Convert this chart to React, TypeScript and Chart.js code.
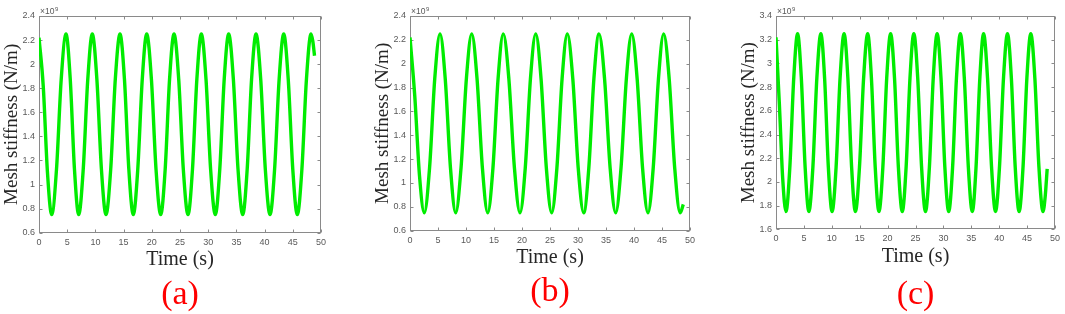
import React, { useEffect, useRef } from 'react';
import { Chart, registerables } from 'chart.js';

Chart.register(...registerables);

// ---------- data (stiffness in units of 1e9 N/m, time in s) ----------
const X_TICKS = [0, 5, 10, 15, 20, 25, 30, 35, 40, 45, 50];
const Y_TICKS_A = [0.6, 0.8, 1, 1.2, 1.4, 1.6, 1.8, 2, 2.2, 2.4];
const Y_TICKS_B = [0.6, 0.8, 1, 1.2, 1.4, 1.6, 1.8, 2, 2.2, 2.4];
const Y_TICKS_C = [1.6, 1.8, 2, 2.2, 2.4, 2.6, 2.8, 3, 3.2, 3.4];
const PANEL_LABELS = ['(a)', '(b)', '(c)'];
const X_TITLE = 'Time (s)';
const Y_TITLE = 'Mesh stiffness (N/m)';
const EXPONENT = '9';

const SERIES_A: [number, number][] = [
  [0, 2.22], [0.75, 1.82], [1.5, 1.1],
  [2.25, 0.75], [3.1, 1.125], [3.94, 1.875],
  [4.79, 2.25], [5.54, 1.875], [6.29, 1.125],
  [7.04, 0.75], [7.84, 1.125], [8.65, 1.875],
  [9.45, 2.25], [10.26, 1.875], [11.07, 1.125],
  [11.88, 0.75], [12.71, 1.125], [13.53, 1.875],
  [14.36, 2.25], [15.15, 1.875], [15.93, 1.125],
  [16.72, 0.75], [17.51, 1.125], [18.31, 1.875],
  [19.1, 2.25], [19.93, 1.875], [20.75, 1.125],
  [21.58, 0.75], [22.37, 1.125], [23.15, 1.875],
  [23.94, 2.25], [24.77, 1.875], [25.59, 1.125],
  [26.42, 0.75], [27.21, 1.125], [27.99, 1.875],
  [28.78, 2.25], [29.61, 1.875], [30.43, 1.125],
  [31.26, 0.75], [32.05, 1.125], [32.84, 1.875],
  [33.63, 2.25], [34.46, 1.875], [35.29, 1.125],
  [36.12, 0.75], [36.91, 1.125], [37.69, 1.875],
  [38.48, 2.25], [39.31, 1.875], [40.13, 1.125],
  [40.96, 0.75], [41.77, 1.125], [42.58, 1.875],
  [43.39, 2.25], [44.19, 1.875], [45.0, 1.125],
  [45.8, 0.75], [46.61, 1.125], [47.42, 1.875],
  [48.23, 2.25], [48.55, 2.19], [48.85, 2.07],
];

const SERIES_B: [number, number][] = [
  [0, 2.22], [0.85, 1.73], [1.7, 1.06],
  [2.55, 0.75], [3.49, 1.125], [4.42, 1.875],
  [5.36, 2.25], [6.29, 1.875], [7.23, 1.125],
  [8.16, 0.75], [9.11, 1.125], [10.07, 1.875],
  [11.02, 2.25], [11.97, 1.875], [12.93, 1.125],
  [13.88, 0.75], [14.81, 1.125], [15.73, 1.875],
  [16.66, 2.25], [17.65, 1.875], [18.65, 1.125],
  [19.64, 0.75], [20.58, 1.125], [21.51, 1.875],
  [22.45, 2.25], [23.4, 1.875], [24.35, 1.125],
  [25.3, 0.75], [26.23, 1.125], [27.16, 1.875],
  [28.09, 2.25], [29.07, 1.875], [30.04, 1.125],
  [31.02, 0.75], [31.93, 1.125], [32.84, 1.875],
  [33.75, 2.25], [34.74, 1.875], [35.74, 1.125],
  [36.73, 0.75], [37.68, 1.125], [38.64, 1.875],
  [39.59, 2.25], [40.56, 1.875], [41.53, 1.125],
  [42.5, 0.75], [43.43, 1.125], [44.37, 1.875],
  [45.3, 2.25], [46.28, 1.875], [47.27, 1.125],
  [48.25, 0.75], [48.8, 0.82],
];

const SERIES_C: [number, number][] = [
  [0, 3.22], [0.6, 2.66], [1.2, 2.03],
  [1.79, 1.75], [2.48, 2.125], [3.18, 2.875],
  [3.87, 3.25], [4.54, 2.875], [5.22, 2.125],
  [5.89, 1.75], [6.61, 2.125], [7.32, 2.875],
  [8.04, 3.25], [8.71, 2.875], [9.38, 2.125],
  [10.05, 1.75], [10.77, 2.125], [11.48, 2.875],
  [12.2, 3.25], [12.88, 2.875], [13.55, 2.125],
  [14.23, 1.75], [14.96, 2.125], [15.7, 2.875],
  [16.43, 3.25], [17.1, 2.875], [17.78, 2.125],
  [18.45, 1.75], [19.15, 2.125], [19.84, 2.875],
  [20.54, 3.25], [21.24, 2.875], [21.93, 2.125],
  [22.63, 1.75], [23.32, 2.125], [24.01, 2.875],
  [24.7, 3.25], [25.4, 2.875], [26.09, 2.125],
  [26.79, 1.75], [27.49, 2.125], [28.18, 2.875],
  [28.88, 3.25], [29.57, 2.875], [30.26, 2.125],
  [30.95, 1.75], [31.65, 2.125], [32.34, 2.875],
  [33.04, 3.25], [33.75, 2.875], [34.47, 2.125],
  [35.18, 1.75], [35.85, 2.125], [36.53, 2.875],
  [37.2, 3.25], [37.91, 2.875], [38.63, 2.125],
  [39.34, 1.75], [40.05, 2.125], [40.77, 2.875],
  [41.48, 3.25], [42.18, 2.875], [42.87, 2.125],
  [43.57, 1.75], [44.27, 2.125], [44.96, 2.875],
  [45.66, 3.25], [46.39, 2.875], [47.12, 2.125],
  [47.85, 1.75], [48.25, 1.88], [48.6, 2.11],
];

// ---------- styling / layout ----------
const W = 1065;
const H = 314;
const SERIF = '"Liberation Serif", "Times New Roman", serif';
const SANS = '"Liberation Sans", Arial, sans-serif';
const GREEN = '#00ec00';
const AXIS_COLOR = '#8a8a8a';
const TICK_COLOR = '#595959';
const TEXT_COLOR = '#262626';
const LABEL_COLOR = '#ff0000';

type PanelSpec = {
  series: [number, number][];
  yTicks: number[];
  label: string;
  left: number;
  width: number;
  padRight: number;
  labelPadTop: number;
  labelPadBottom: number;
};

const PANELS: PanelSpec[] = [
  { series: SERIES_A, yTicks: Y_TICKS_A, label: PANEL_LABELS[0], left: 0, width: 345, padRight: 24, labelPadTop: 3.6, labelPadBottom: 0.3 },
  { series: SERIES_B, yTicks: Y_TICKS_B, label: PANEL_LABELS[1], left: 371, width: 345, padRight: 26, labelPadTop: 3.1, labelPadBottom: 2.8 },
  { series: SERIES_C, yTicks: Y_TICKS_C, label: PANEL_LABELS[2], left: 737, width: 328, padRight: 10, labelPadTop: 7.3, labelPadBottom: 0 },
];

const framePlugin = {
  id: 'matlabFrame',
  beforeDatasetsDraw(chart: any) {
    const { ctx, chartArea: a, scales } = chart;
    const L = 3;
    ctx.save();
    ctx.strokeStyle = AXIS_COLOR;
    ctx.lineWidth = 1;
    const l = Math.round(a.left) + 0.5;
    const r = Math.round(a.right) - 0.5;
    const t = Math.round(a.top) + 0.5;
    const b = Math.round(a.bottom) - 0.5;
    ctx.strokeRect(l, t, r - l, b - t);
    ctx.beginPath();
    for (const tk of scales.x.ticks) {
      const px = Math.round(scales.x.getPixelForValue(tk.value)) + 0.5;
      ctx.moveTo(px, b); ctx.lineTo(px, b - L);
      ctx.moveTo(px, t); ctx.lineTo(px, t + L);
    }
    for (const tk of scales.y.ticks) {
      const py = Math.round(scales.y.getPixelForValue(tk.value)) + 0.5;
      ctx.moveTo(l, py); ctx.lineTo(l + L, py);
      ctx.moveTo(r, py); ctx.lineTo(r - L, py);
    }
    ctx.stroke();
    ctx.restore();
  },
  afterDraw(chart: any) {
    const { ctx, chartArea: a } = chart;
    ctx.save();
    ctx.fillStyle = TICK_COLOR;
    ctx.textBaseline = 'alphabetic';
    ctx.textAlign = 'left';
    ctx.font = `8.5px ${SANS}`;
    const base = '\u00d710';
    const x0 = a.left + 1;
    ctx.fillText(base, x0, a.top - 2);
    const w = ctx.measureText(base).width;
    ctx.font = `6px ${SANS}`;
    ctx.fillText(EXPONENT, x0 + w + 0.5, a.top - 5.5);
    ctx.restore();
  },
};

const fmt = (v: number) => String(Number(Number(v).toFixed(1)));

function makeConfig(spec: PanelSpec): any {
  const yMin = spec.yTicks[0];
  const yMax = spec.yTicks[spec.yTicks.length - 1];
  return {
    type: 'line',
    data: {
      datasets: [
        {
          data: spec.series.map(([x, y]) => ({ x, y })),
          borderColor: GREEN,
          borderWidth: 3.4,
          pointRadius: 0,
          fill: false,
          cubicInterpolationMode: 'monotone',
        },
      ],
    },
    options: {
      animation: false,
      responsive: false,
      events: [],
      layout: { padding: { top: 16, right: spec.padRight, left: 0, bottom: 0 } },
      plugins: {
        legend: { display: false },
        tooltip: { enabled: false },
        title: {
          display: true,
          text: spec.label,
          position: 'bottom',
          fullSize: false,
          color: LABEL_COLOR,
          font: { family: SERIF, size: 34, weight: 'normal', lineHeight: 1.1 },
          padding: { top: spec.labelPadTop, bottom: spec.labelPadBottom },
        },
      },
      scales: {
        x: {
          type: 'linear',
          min: 0,
          max: 50,
          afterBuildTicks: (s: any) => { s.ticks = X_TICKS.map((v) => ({ value: v })); },
          afterFit: (s: any) => { s.height = 40; },
          grid: { display: false, drawTicks: false },
          border: { display: false },
          ticks: {
            padding: 4,
            color: TICK_COLOR,
            font: { family: SANS, size: 9 },
            maxRotation: 0,
            autoSkip: false,
            callback: (v: number) => fmt(v),
          },
          title: {
            display: true,
            text: X_TITLE,
            color: TEXT_COLOR,
            font: { family: SERIF, size: 20, lineHeight: 1.2 },
            padding: { top: 0, bottom: 0.5 },
          },
        },
        y: {
          type: 'linear',
          min: yMin,
          max: yMax,
          afterBuildTicks: (s: any) => { s.ticks = spec.yTicks.map((v) => ({ value: v })); },
          afterFit: (s: any) => { s.width = 39; },
          grid: { display: false, drawTicks: false },
          border: { display: false },
          ticks: {
            padding: 4,
            color: TICK_COLOR,
            font: { family: SANS, size: 9 },
            autoSkip: false,
            callback: (v: number) => fmt(v),
          },
          title: {
            display: true,
            text: Y_TITLE,
            color: TEXT_COLOR,
            font: { family: SERIF, size: 19, lineHeight: 1.2 },
            padding: { top: 1, bottom: 0 },
          },
        },
      },
    },
    plugins: [framePlugin],
  };
}

function Panel({ spec }: { spec: PanelSpec }) {
  const ref = useRef<HTMLCanvasElement>(null);
  useEffect(() => {
    const chart = new Chart(ref.current as HTMLCanvasElement, makeConfig(spec));
    return () => chart.destroy();
  }, [spec]);
  return (
    <canvas
      ref={ref}
      width={spec.width}
      height={H}
      style={{ position: 'absolute', left: spec.left, top: 0, width: spec.width, height: H }}
    />
  );
}

export default function App() {
  return (
    <div style={{ position: 'absolute', left: 0, top: 0, width: W, height: H, background: '#ffffff', overflow: 'hidden' }}>
      {PANELS.map((p) => (
        <Panel key={p.label} spec={p} />
      ))}
    </div>
  );
}
